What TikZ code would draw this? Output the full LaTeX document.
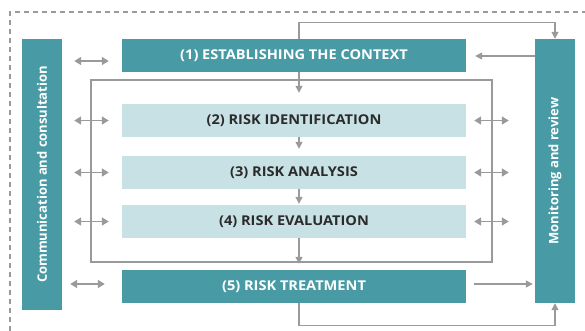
\documentclass[tikz,border=0pt]{standalone}
\usepackage{fontspec}
\setmainfont{Open Sans}
\newfontfamily\stepfont[FakeStretch=1.08]{Open Sans}
\usetikzlibrary{arrows.meta}

\definecolor{riskteal}{HTML}{489BA5}
\definecolor{risklight}{HTML}{C8E1E5}
\definecolor{riskgray}{HTML}{9A9A9A}
\definecolor{risktext}{HTML}{2B2B2B}

\tikzset{
  stepteal/.style={fill=riskteal, text=white, minimum width=344pt, minimum height=33pt,
        inner sep=0pt, font=\stepfont\fontsize{13.5}{15}\selectfont\bfseries},
  steplight/.style={fill=risklight, text=risktext, minimum width=344pt, minimum height=33pt,
        inner sep=0pt, font=\stepfont\fontsize{13.5}{15}\selectfont\bfseries},
  sidebar/.style={fill=riskteal, text=white, minimum width=40pt, inner sep=0pt,
        font=\fontsize{13}{15}\selectfont\bfseries},
  flow/.style={draw=riskgray, line width=1.3pt, -{Triangle[length=7pt,width=7pt]}},
  talk/.style={draw=riskgray, line width=1.6pt,
        {Triangle[length=7pt,width=8pt]}-{Triangle[length=7pt,width=8pt]}},
}

\begin{document}
\begin{tikzpicture}[x=1pt, y=-1pt]
  \useasboundingbox (0,0) rectangle (585,331);

  % Dashed outer frame
  \draw[riskgray, line width=1.3pt, dash pattern=on 5pt off 4pt] (10,331) -- (10,12) -- (585,12);

  % Inner frame round steps 2-4
  \draw[riskgray, line width=1.5pt] (91,80) rectangle (492,262);

  % Side bars
  \node[sidebar, minimum height=271pt] (comm) at (42,174.5)
        {\rotatebox{90}{Communication and consultation}};
  \node[sidebar, minimum height=264pt] (mon) at (555,171)
        {\rotatebox{90}{Monitoring and review}};

  % Steps
  \node[stepteal]  (ctx)   at (294,55.5)  {(1) ESTABLISHING THE CONTEXT};
  \node[steplight] (ident) at (294,120.5) {(2) RISK IDENTIFICATION};
  \node[steplight] (anal)  at (294,172.5) {(3) RISK ANALYSIS};
  \node[steplight] (eval)  at (294,221.5) {(4) RISK EVALUATION};
  \node[stepteal]  (treat) at (294,286.5) {(5) RISK TREATMENT};

  % Flow down the steps
  \draw[flow, shorten >=11pt] ([xshift=5pt]ctx.south) -- ([xshift=5pt]ident.north);
  \draw[flow, shorten >=7pt] ([xshift=5pt]ident.south) -- ([xshift=5pt]anal.north);
  \draw[flow, shorten >=1pt] ([xshift=5pt]anal.south) -- ([xshift=5pt]eval.north);
  \draw[flow, shorten >=6pt] ([xshift=5pt]eval.south) -- ([xshift=5pt]treat.north);

  % Loops to and from monitoring
  \draw[flow] ([xshift=5pt]ctx.north) -- ++(0,-16) -| (mon.north);
  \draw[flow] ([xshift=5pt]treat.south) -- ++(0,22) -| (mon.south);
  \draw[flow, shorten >=9pt] (mon.west |- 0,56) -- (ctx.east |- 0,56);
  \draw[flow, shorten <=8pt, shorten >=2pt] (treat.east |- 0,284) -- (mon.west |- 0,284);

  % Communication arrows
  \draw[talk, shorten <=12pt, shorten >=13pt] (comm.east |- 0,61) -- (ctx.west |- 0,61);
  \draw[talk, shorten <=12pt, shorten >=13pt] (comm.east |- ident) -- (ident.west);
  \draw[talk, shorten <=12pt, shorten >=13pt] (comm.east |- anal) -- (anal.west);
  \draw[talk, shorten <=12pt, shorten >=13pt] (comm.east |- eval) -- (eval.west);
  \draw[talk, shorten <=8pt, shorten >=17pt] (comm.east |- 0,284) -- (treat.west |- 0,284);
  \draw[talk, shorten <=8pt, shorten >=26pt] (ident.east) -- (mon.west |- ident);
  \draw[talk, shorten <=8pt, shorten >=26pt] (anal.east) -- (mon.west |- anal);
  \draw[talk, shorten <=8pt, shorten >=26pt] (eval.east) -- (mon.west |- eval);

\end{tikzpicture}
\end{document}
